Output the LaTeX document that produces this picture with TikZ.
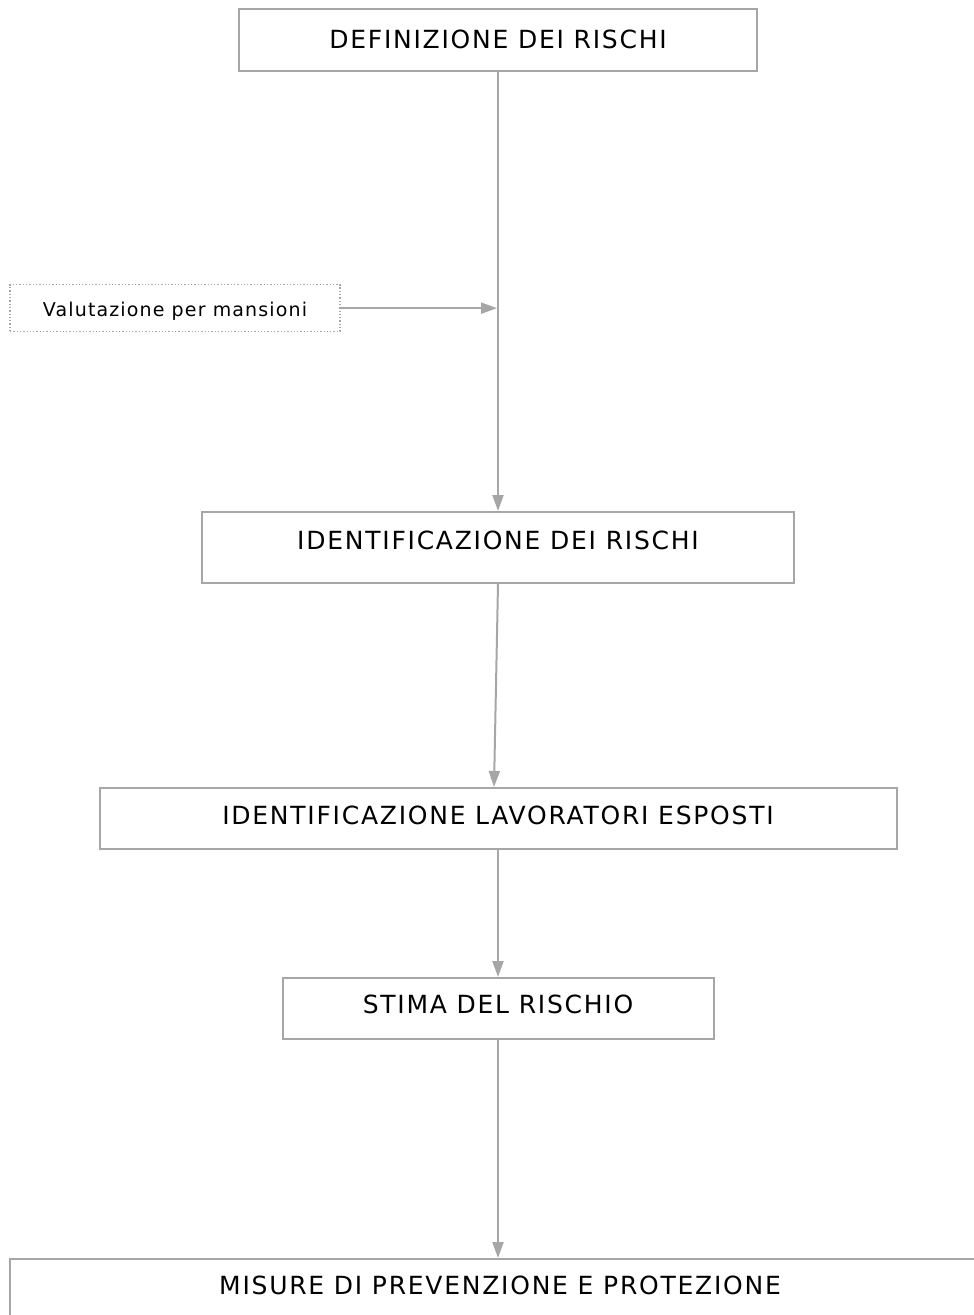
\documentclass[tikz,border=0pt]{standalone}
\usepackage{fontspec}
\setmainfont{DejaVu Sans}
\newfontfamily\boxfont[LetterSpace=7]{DejaVu Sans}
\newfontfamily\notefont[LetterSpace=6]{DejaVu Sans}
\usepackage{tikz}
\usetikzlibrary{positioning,arrows.meta}
\definecolor{linegray}{HTML}{A6A6A6}

\begin{document}
\begin{tikzpicture}[
		x=1pt,y=-1pt,
		stepbox/.style={
			draw=linegray,
			line width=2pt,
			anchor=north,
			inner xsep=0pt,
			inner ysep=0pt,
			font=\boxfont\fontsize{25}{28}\selectfont
		},
		notebox/.style={
			draw=linegray,
			dotted,
			line width=1.3pt,
			anchor=north,
			inner xsep=0pt,
			inner ysep=0pt,
			minimum width=330pt,
			text height=32pt,
			text depth=15pt,
			font=\notefont\fontsize{19}{22}\selectfont
		},
		flow/.style={
			draw=linegray,
			line width=2pt,
			-{Triangle[length=16pt,width=11pt]}
		}
		]
		\useasboundingbox (0,0) rectangle (974,1315);
		
		\node[stepbox, minimum width=518pt, text height=39pt, text depth=23pt] at (498,8)
		(def) {DEFINIZIONE DEI RISCHI};
		
		\node[notebox] at (175,284)
		(mans) {Valutazione per mansioni};
		
		\node[stepbox, minimum width=592pt, text height=37pt, text depth=34pt] at (498,511)
		(idr) {IDENTIFICAZIONE DEI RISCHI};
		
		\node[stepbox, minimum width=797pt, text height=36pt, text depth=25pt] at (498,787)
		(idl) {IDENTIFICAZIONE LAVORATORI ESPOSTI};
		
		\node[stepbox, minimum width=431pt, text height=35pt, text depth=26pt] at (498,977)
		(stima) {STIMA DEL RISCHIO};
		
		% box cut by the page edge
		\node[stepbox, minimum width=980pt, text height=35pt, text depth=27pt] at (500,1258)
		(mis) {MISURE DI PREVENZIONE E PROTEZIONE};
		
		\draw[flow] (def) -- (idr);
		\draw[flow, shorten >=1pt] (mans.east) -- (mans.east -| def.south);
		\draw[flow] (idr.south) -- ([xshift=-4pt]idl.north);
		\draw[flow] (idl) -- (stima);
		\draw[flow] (stima) -- (mis.north -| stima.south);
		
\end{tikzpicture}
\end{document}
